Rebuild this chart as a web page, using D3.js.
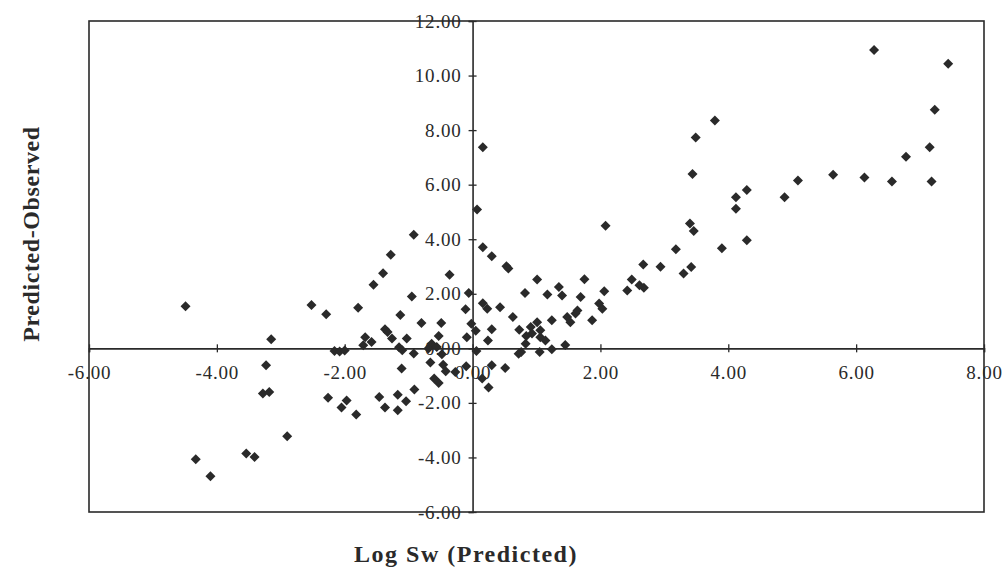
<!DOCTYPE html>
<html>
<head>
<meta charset="utf-8">
<script src="https://cdn.jsdelivr.net/npm/d3@7"></script>
<style>
  body { margin: 0; background: #fff; }
  text { font-family: "Liberation Serif", "DejaVu Serif", serif; fill: #2a2a2a; }
</style>
</head>
<body>
<script>
// Tick values for both axes
const xTicks = [-6, -4, -2, 0, 2, 4, 6, 8];
const yTicks = [-6, -4, -2, 0, 2, 4, 6, 8, 10, 12];

// Log Sw (Predicted) values
const logSw = [
  6.28, 7.44, 7.23, 3.79, 3.49, 7.15, 6.78, 3.44, 5.09, 5.64, 6.13, 6.56, 7.18, 4.29, 4.12, 4.12, 4.88,
  0.16, 0.07, 2.08, 3.40, 3.46, 4.29, 3.90, 3.18, 3.42, 3.30, 2.67, 2.94, 2.49, 2.61, 2.68, 2.42, 2.06,
  1.98, 2.03, 1.75, 1.69, 1.87, 1.64, 1.48, 1.53, 1.61, 1.35, 1.17, 1.40, 1.01, 0.82, 1.24, 0.43, 0.63,
  0.16, 0.30, 0.53, 0.56, -0.06, 0.16, 0.23, -0.11, -0.02, 0.05, -0.09, 0.30, 0.24, 0.73, 0.91, 1.01,
  1.06, 0.93, 1.06, 1.14, 0.84, 0.83, 0.76, 1.05, 1.24, 1.45, 0.06, 0.72, 0.30, 0.51, 0.25, 0.15,
  -4.49, -3.15, -2.52, -2.29, -1.79, -1.55, -1.40, -1.28, -0.92, -0.36, -0.95, -1.13, -0.80, -0.49,
  -1.37, -1.33, -1.26, -1.03, -1.15, -1.10, -0.92, -1.68, -1.58, -1.71, -2.16, -2.08, -2.00, -0.64,
  -0.69, -0.53, -0.48, -0.56, -3.23, -3.28, -3.18, -2.90, -3.54, -3.41, -4.33, -4.10, -2.26, -1.97,
  -2.05, -1.82, -1.46, -1.37, -1.17, -1.17, -1.04, -0.91, -1.11, -0.66, -0.46, -0.42, -0.60, -0.53,
  -0.27, -0.10
];

// Predicted-Observed values (same order)
const predObs = [
  10.94, 10.43, 8.75, 8.35, 7.73, 7.37, 7.02, 6.39, 6.15, 6.36, 6.26, 6.12, 6.12, 5.80, 5.54, 5.12, 5.54,
  7.37, 5.09, 4.49, 4.58, 4.30, 3.96, 3.67, 3.63, 2.98, 2.74, 3.07, 2.99, 2.52, 2.31, 2.22, 2.12, 2.09,
  1.64, 1.45, 2.53, 1.88, 1.03, 1.39, 1.15, 0.96, 1.28, 2.25, 1.97, 1.94, 2.52, 2.03, 1.03, 1.51, 1.15,
  3.71, 3.38, 3.01, 2.93, 2.03, 1.65, 1.45, 1.43, 0.90, 0.64, 0.41, 0.70, 0.29, 0.68, 0.78, 0.96,
  0.66, 0.54, 0.41, 0.29, 0.45, 0.17, -0.13, -0.13, -0.03, 0.12, -0.10, -0.20, -0.62, -0.72, -1.44, -1.11,
  1.54, 0.33, 1.59, 1.25, 1.49, 2.33, 2.75, 3.43, 4.16, 2.70, 1.90, 1.22, 0.93, 0.93,
  0.70, 0.60, 0.36, 0.36, 0.04, -0.07, -0.19, 0.41, 0.23, 0.11, -0.10, -0.12, -0.08, 0.17,
  -0.01, 0.45, -0.22, 0.05, -0.62, -1.66, -1.60, -3.22, -3.86, -3.98, -4.07, -4.69, -1.81, -1.91,
  -2.17, -2.43, -1.78, -2.17, -1.70, -2.27, -1.94, -1.51, -0.74, -0.52, -0.60, -0.84, -1.11, -1.27,
  -0.87, -0.66
];

const width = 1006, height = 570;
const plot = { left: 89, right: 984, top: 21, bottom: 512 };
const ink = "#2a2a2a";

const svg = d3.select("body").append("svg")
    .attr("width", width)
    .attr("height", height);

const x = d3.scaleLinear().domain([-6, 8]).range([plot.left, plot.right]);
const y = d3.scaleLinear().domain([-6, 12]).range([plot.bottom, plot.top]);

// plain hyphen for negatives, like the original
const fmt = d => d.toFixed(2);

// Frame
svg.append("rect")
    .attr("x", plot.left)
    .attr("y", plot.top)
    .attr("width", plot.right - plot.left)
    .attr("height", plot.bottom - plot.top)
    .attr("fill", "none")
    .attr("stroke", ink)
    .attr("stroke-width", 1.6);

// X axis through y = 0
const xAxis = svg.append("g")
    .attr("transform", `translate(0,${y(0)})`)
    .call(d3.axisBottom(x).tickValues(xTicks).tickFormat(fmt).tickSizeOuter(0).tickSize(4));
xAxis.select(".domain").attr("stroke", ink).attr("stroke-width", 1.6);
xAxis.selectAll(".tick line").attr("y1", -4).attr("y2", 4).attr("stroke", ink).attr("stroke-width", 1.3);
xAxis.selectAll(".tick text")
    .attr("y", 17)
    .style("font-size", "19px")
    .style("letter-spacing", "0.8px")
    .attr("fill", ink);

// Y axis through x = 0
const yAxis = svg.append("g")
    .attr("transform", `translate(${x(0)},0)`)
    .call(d3.axisLeft(y).tickValues(yTicks).tickFormat(fmt).tickSizeOuter(0).tickSize(4));
yAxis.select(".domain").attr("stroke", ink).attr("stroke-width", 1.6);
yAxis.selectAll(".tick line").attr("x1", -4).attr("x2", 4).attr("stroke", ink).attr("stroke-width", 1.3);
yAxis.selectAll(".tick text")
    .attr("x", -11)
    .style("font-size", "19px")
    .style("letter-spacing", "0.8px")
    .attr("fill", ink);

// Diamond markers
const pts = logSw.map((v, i) => ({ x: v, y: predObs[i] }));
svg.append("g")
    .selectAll("path")
    .data(pts)
    .enter()
    .append("path")
    .attr("d", d3.symbol(d3.symbolSquare, 50))
    .attr("transform", d => `translate(${x(d.x)},${y(d.y)}) rotate(45)`)
    .attr("fill", ink);

// Axis titles
svg.append("text")
    .attr("x", 466)
    .attr("y", 562)
    .attr("text-anchor", "middle")
    .style("font-size", "24px")
    .style("font-weight", "bold")
    .style("letter-spacing", "1.5px")
    .text("Log Sw (Predicted)");

svg.append("text")
    .attr("transform", "translate(39,234) rotate(-90)")
    .attr("text-anchor", "middle")
    .style("font-size", "24px")
    .style("font-weight", "bold")
    .style("letter-spacing", "0.6px")
    .text("Predicted-Observed");
</script>
</body>
</html>
